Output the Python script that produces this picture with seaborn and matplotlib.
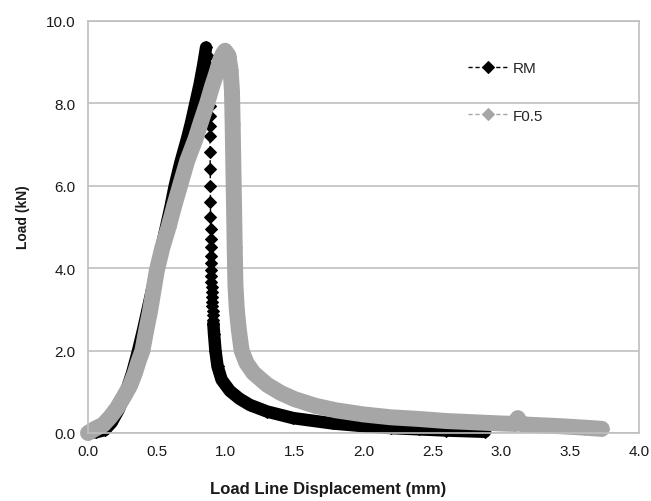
import matplotlib
matplotlib.use("Agg")
import matplotlib.pyplot as plt
import matplotlib.ticker as mticker
import seaborn as sns

# RM (black): rising branch, sudden load drop (separate diamonds), post-peak tail
rm_rise_x = [0.00, 0.06, 0.12, 0.17, 0.22, 0.27, 0.32, 0.36, 0.40, 0.44, 0.48, 0.52,
             0.56, 0.60, 0.63, 0.67, 0.72, 0.75, 0.78, 0.81, 0.835, 0.85, 0.857]
rm_rise_y = [0.00, 0.02, 0.07, 0.25, 0.55, 0.95, 1.45, 1.95, 2.50, 3.10, 3.70, 4.30,
             4.90, 5.50, 6.00, 6.55, 7.15, 7.55, 8.00, 8.45, 8.90, 9.20, 9.35]

rm_drop_x = [0.872, 0.876, 0.878, 0.880, 0.881, 0.882, 0.883, 0.884, 0.885, 0.886,
             0.887, 0.888, 0.889, 0.889, 0.890, 0.890, 0.891, 0.892, 0.893, 0.894,
             0.895, 0.896, 0.897, 0.898, 0.899, 0.900, 0.902, 0.904, 0.906, 0.908, 0.910]
rm_drop_y = [9.15, 8.90, 8.65, 8.40, 8.17, 7.93, 7.68, 7.44, 7.20, 6.82,
             6.41, 6.00, 5.61, 5.24, 4.95, 4.71, 4.51, 4.30, 4.12, 3.95,
             3.80, 3.66, 3.53, 3.41, 3.29, 3.18, 3.07, 2.96, 2.85, 2.75, 2.65]

rm_tail_x = [0.910, 0.915, 0.925, 0.94, 0.97, 1.03, 1.10, 1.175, 1.30, 1.49,
             1.78, 2.02, 2.20, 2.40, 2.60, 2.88]
rm_tail_y = [2.65, 2.40, 2.00, 1.62, 1.29, 1.02, 0.83, 0.68, 0.52, 0.36,
             0.23, 0.16, 0.12, 0.09, 0.06, 0.03]

# F0.5 (grey)
f05_x = [0.00, 0.05, 0.11, 0.16, 0.21, 0.26, 0.305, 0.34, 0.365, 0.395,
         0.42, 0.45, 0.475, 0.50, 0.54, 0.585, 0.625, 0.668, 0.72, 0.78,
         0.82, 0.865, 0.90, 0.934, 0.96, 0.98, 0.995, 1.02, 1.035, 1.045,
         1.05, 1.055, 1.06, 1.065, 1.07, 1.08, 1.095, 1.115, 1.15, 1.20,
         1.30, 1.40, 1.50, 1.65, 1.80, 2.00, 2.20, 2.40, 2.60, 2.80,
         3.00, 3.10, 3.12, 3.14, 3.20, 3.40, 3.60, 3.73]
f05_y = [0.00, 0.10, 0.20, 0.38, 0.60, 0.88, 1.15, 1.45, 1.72, 2.00,
         2.45, 2.95, 3.45, 3.95, 4.50, 5.00, 5.50, 6.00, 6.60, 7.13,
         7.55, 8.00, 8.40, 8.75, 9.05, 9.20, 9.27, 9.15, 8.80, 8.30,
         7.50, 6.50, 5.50, 4.50, 3.60, 3.00, 2.50, 2.00, 1.70, 1.46,
         1.17, 0.97, 0.82, 0.66, 0.55, 0.45, 0.38, 0.34, 0.29, 0.26,
         0.23, 0.22, 0.36, 0.22, 0.20, 0.17, 0.13, 0.10]

x_ticks = [0.0, 0.5, 1.0, 1.5, 2.0, 2.5, 3.0, 3.5, 4.0]
y_ticks = [0.0, 2.0, 4.0, 6.0, 8.0, 10.0]

sns.set_style("white")
plt.rcParams["font.family"] = ["Liberation Sans", "DejaVu Sans"]

black = "#000000"
grey = "#A6A6A6"
edge = "#BFBFBF"

fig = plt.figure(figsize=(6.51, 5.02), dpi=100)
ax = fig.add_axes([0.1352, 0.1355, 0.8464, 0.8213])

dash = (0, (3, 2))

# dense runs of overlapping diamonds show as a solid band
for bx, by in [(rm_rise_x, rm_rise_y), (rm_tail_x, rm_tail_y)]:
    sns.lineplot(x=bx, y=by, sort=False, estimator=None, color=black, lw=9,
                 solid_capstyle="round", solid_joinstyle="round", clip_on=False, ax=ax)
sns.lineplot(x=rm_rise_x + rm_drop_x + rm_tail_x, y=rm_rise_y + rm_drop_y + rm_tail_y,
             sort=False, estimator=None, color=black, lw=1, linestyle=dash,
             marker="D", markersize=6.5, markeredgecolor=black, clip_on=False,
             label="RM", ax=ax)

sns.lineplot(x=f05_x, y=f05_y, sort=False, estimator=None, color=grey, lw=11.5,
             solid_capstyle="round", solid_joinstyle="round", clip_on=False, ax=ax)
sns.lineplot(x=f05_x, y=f05_y, sort=False, estimator=None, color=grey, lw=1,
             linestyle=dash, marker="D", markersize=7.5, markeredgecolor=grey,
             clip_on=False, label="F0.5", ax=ax)

ax.set_xlim(0, 4)
ax.set_ylim(0, 10)
ax.set_xticks(x_ticks)
ax.set_yticks(y_ticks)
ax.xaxis.set_major_formatter(mticker.FormatStrFormatter("%.1f"))
ax.yaxis.set_major_formatter(mticker.FormatStrFormatter("%.1f"))
ax.yaxis.grid(True, color="#C0C0C0", lw=1.2)
ax.xaxis.grid(False)
ax.set_axisbelow(True)
for s in ax.spines.values():
    s.set_color(edge)
    s.set_linewidth(1.2)
    s.set_visible(True)
ax.tick_params(axis="both", direction="out", length=4, width=1, color=edge,
               labelsize=11, labelcolor="#1a1a1a")
ax.tick_params(axis="x", pad=4)
ax.tick_params(axis="y", pad=5)
ax.set_xlabel("")
ax.set_ylabel("")

fig.text(0.504, 0.024, "Load Line Displacement (mm)", ha="center", va="center",
         fontsize=12, fontweight="bold", color="#1a1a1a")
fig.text(0.036, 0.568, "Load (kN)", ha="center", va="center", rotation=90,
         fontsize=10, fontweight="bold", color="#1a1a1a")

handles, labels = ax.get_legend_handles_labels()
leg = ax.legend(handles, labels, loc="upper left", bbox_to_anchor=(0.665, 0.935),
                frameon=False, fontsize=11, handlelength=2.6, handletextpad=0.3,
                labelspacing=2.2)
for h in leg.legend_handles:
    h.set_markersize(6.5)

fig.savefig("out.png", dpi=100)
